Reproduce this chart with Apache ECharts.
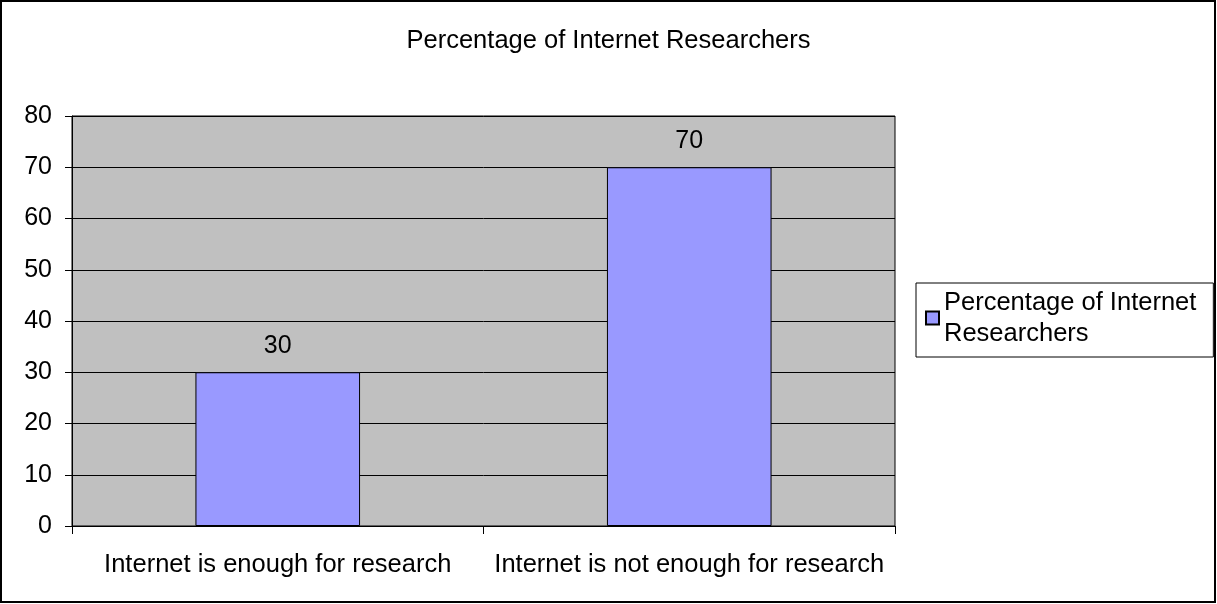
<!DOCTYPE html>
<html>
<head>
<meta charset="utf-8">
<script src="https://cdn.jsdelivr.net/npm/echarts@6/dist/echarts.min.js"></script>
<style>
    html, body { margin: 0; padding: 0; background: #fff; }
    #chart { width: 1217px; height: 604px; }
</style>
</head>
<body>
<div id="chart"></div>
<script>
    var categories = ['Internet is enough for research', 'Internet is not enough for research'];
    var seriesName = 'Percentage of Internet Researchers';
    var values = [30, 70];
    var yMin = 0, yMax = 80, yStep = 10;

    var font = 'Liberation Sans, Arial, sans-serif';
    var chart = echarts.init(document.getElementById('chart'));

    var option = {
        backgroundColor: '#ffffff',
        animation: false,
        title: {
            text: seriesName,
            left: 'center',
            top: 23,
            textStyle: { fontFamily: font, fontSize: 25.5, fontWeight: 'normal', color: '#000' }
        },
        legend: {
            orient: 'vertical',
            left: 916,
            top: 283,
            padding: [4, 17, 8, 9],
            borderColor: '#000',
            borderWidth: 1,
            icon: 'rect',
            itemWidth: 13,
            itemHeight: 13,
            formatter: function () { return 'Percentage of Internet\nResearchers'; },
            textStyle: { fontFamily: font, fontSize: 25.5, color: '#000', lineHeight: 31 },
            data: [seriesName]
        },
        grid: {
            left: 72,
            right: 322,
            top: 116,
            bottom: 78,
            show: true,
            backgroundColor: '#c0c0c0',
            borderColor: '#000',
            borderWidth: 1
        },
        xAxis: {
            type: 'category',
            data: categories,
            axisLine: { lineStyle: { color: '#000', width: 1 } },
            axisTick: { show: true, inside: false, length: 8, alignWithLabel: false, lineStyle: { color: '#000' } },
            axisLabel: { interval: 0, fontFamily: font, fontSize: 25.5, color: '#000', margin: 26 }
        },
        yAxis: {
            type: 'value',
            min: yMin,
            max: yMax,
            interval: yStep,
            axisLine: { show: true, lineStyle: { color: '#000', width: 1 } },
            axisTick: { show: true, inside: false, length: 7, lineStyle: { color: '#000' } },
            axisLabel: { fontFamily: font, fontSize: 25, color: '#000', margin: 20 },
            splitLine: { show: true, lineStyle: { color: '#000', width: 1 } }
        },
        series: [{
            name: seriesName,
            type: 'bar',
            data: values,
            barWidth: '40%',
            itemStyle: { color: '#9999ff', borderColor: '#000', borderWidth: 1 },
            label: {
                show: true,
                position: 'top',
                distance: 14,
                fontFamily: font,
                fontSize: 25,
                color: '#000'
            }
        }],
        graphic: [{
            type: 'rect',
            shape: { x: 1, y: 1, width: 1214, height: 601 },
            style: { fill: 'none', stroke: '#000', lineWidth: 2 },
            z: 100
        }]
    };

    chart.setOption(option);
</script>
</body>
</html>
